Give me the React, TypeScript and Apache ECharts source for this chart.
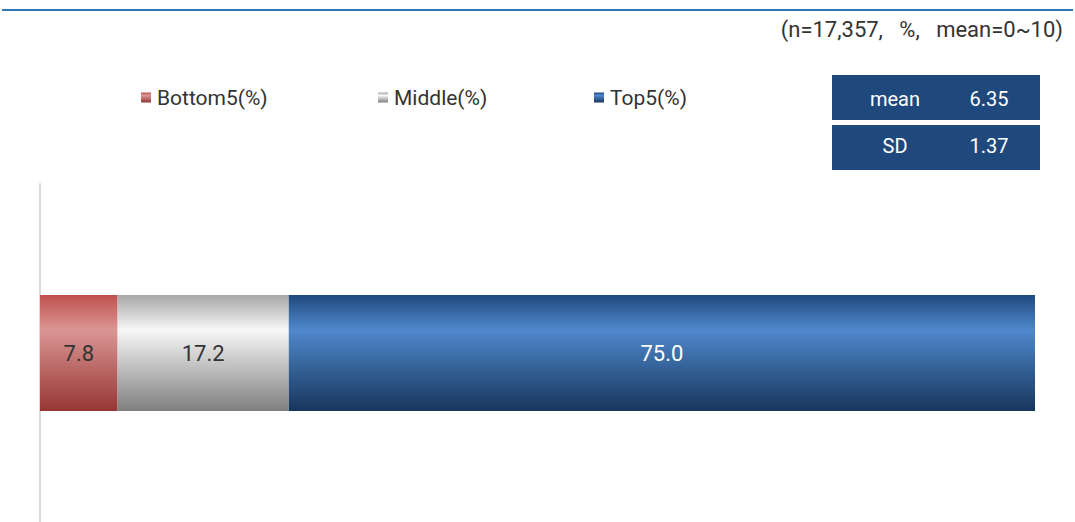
import React, { useEffect, useRef } from "react";
import * as echarts from "echarts";

const categories = ["Total"];
const seriesNames = ["Bottom5(%)", "Middle(%)", "Top5(%)"];
const bottom5 = [7.8];
const middle = [17.2];
const top5 = [75.0];
const statLabels = ["mean", "SD"];
const statValues = ["6.35", "1.37"];
const noteText = "(n=17,357,   %,   mean=0~10)";

const FONT = "Roboto, 'Noto Sans', sans-serif";

function grad(top: string, mid: string, bottom: string) {
  return new echarts.graphic.LinearGradient(0, 0, 0, 1, [
    { offset: 0, color: top },
    { offset: 0.3, color: mid },
    { offset: 1, color: bottom },
  ]);
}

export default function App() {
  const ref = useRef<HTMLDivElement>(null);
  useEffect(() => {
    document.body.style.margin = "0";
    const chart = echarts.init(ref.current!, undefined, { renderer: "svg" });
    const colors = [
      grad("#c0504d", "#da9694", "#963634"),
      grad("#a6a6a6", "#f7f7f7", "#7f7f7f"),
      grad("#1f497d", "#4f88cc", "#17365d"),
    ];
    const dataSets = [bottom5, middle, top5];
    const labelColors = ["#333333", "#333333", "#ffffff"];
    const legendX = [136, 373, 589];
    chart.setOption({
      animation: false,
      grid: { left: 40, right: 40, top: 184, bottom: 0 },
      xAxis: { type: "value", min: 0, max: 100, show: false },
      yAxis: {
        type: "category",
        data: categories,
        axisLine: { show: true, lineStyle: { color: "#d9d9d9", width: 2 } },
        axisTick: { show: false },
        axisLabel: { show: false },
      },
      legend: seriesNames.map((n, i) => ({
        data: [n],
        left: legendX[i],
        top: 82,
        itemWidth: 10,
        itemHeight: 10,
        itemGap: 4,
        icon: "rect",
        textStyle: { fontSize: 21, color: "#333", fontFamily: FONT, padding: [0, 0, 0, 1] },
      })),
      series: seriesNames.map((n, i) => ({
        name: n,
        type: "bar",
        stack: "all",
        barWidth: 116,
        data: dataSets[i],
        itemStyle: { color: colors[i] },
        label: {
          show: true,
          position: "inside",
          formatter: (p: any) => p.value.toFixed(1),
          fontSize: 22,
          color: labelColors[i],
          fontFamily: FONT,
        },
      })),
      graphic: [
        {
          type: "line",
          shape: { x1: 2, y1: 10, x2: 1073, y2: 10 },
          style: { stroke: "#2e75b6", lineWidth: 2 },
        },
        {
          type: "text",
          right: 12,
          top: 18,
          style: { text: noteText, fontSize: 22, fill: "#333", fontFamily: FONT },
        },
        ...statLabels.flatMap((lab, i) => [
          {
            type: "rect",
            shape: { x: 832, y: 75 + i * 50, width: 208, height: 45 },
            style: { fill: "#1f497d" },
          },
          {
            type: "text",
            x: 895,
            y: 99 + i * 47,
            style: {
              text: lab,
              fontSize: 20,
              fill: "#fff",
              fontFamily: FONT,
              align: "center",
              verticalAlign: "middle",
            },
          },
          {
            type: "text",
            x: 989,
            y: 99 + i * 47,
            style: {
              text: statValues[i],
              fontSize: 20,
              fill: "#fff",
              fontFamily: FONT,
              align: "center",
              verticalAlign: "middle",
            },
          },
        ]),
      ],
    });
    return () => chart.dispose();
  }, []);
  return <div ref={ref} style={{ width: 1075, height: 522 }} />;
}
